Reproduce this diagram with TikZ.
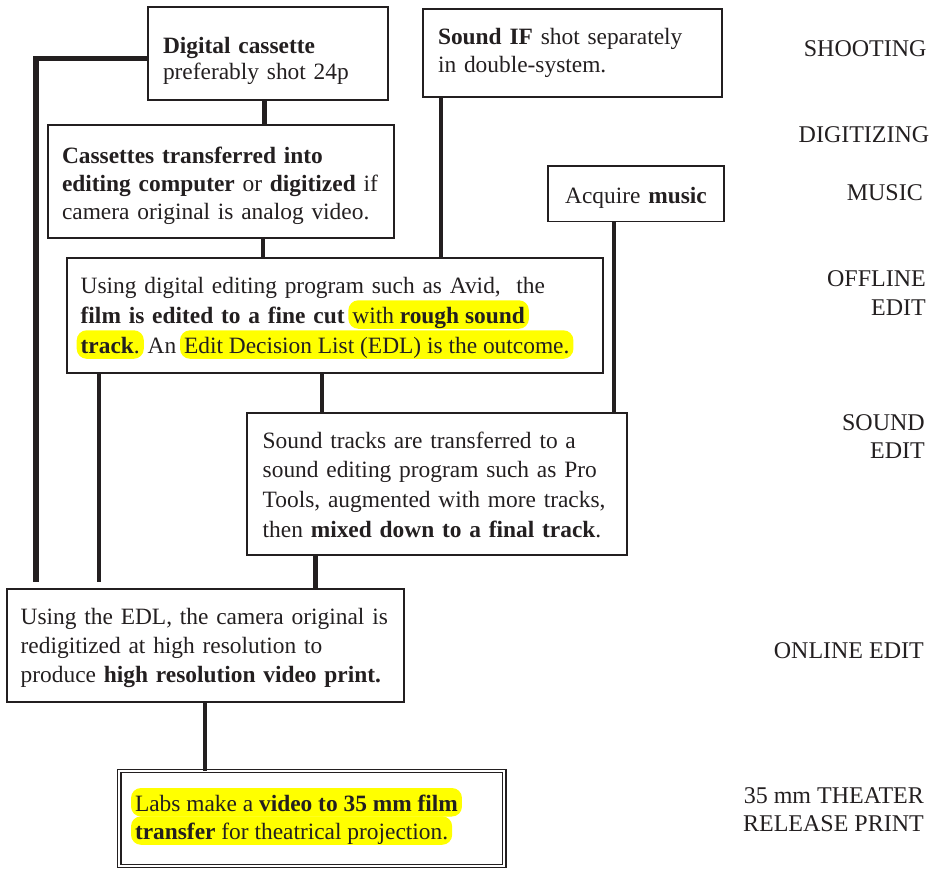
\documentclass[tikz,border=0pt]{standalone}
\usepackage{fontspec}
\setmainfont{Liberation Serif}

\definecolor{ink}{RGB}{35,31,32}
\definecolor{marker}{RGB}{255,255,0}

% box text: 23.4pt type with a given line pitch; lines never pushed apart
\newcommand\boxfont[1]{\fontsize{23.4}{#1}\selectfont\lineskiplimit=-1000pt\relax}
% invisible struts fixing the space above the first and below the last line
\newcommand\tstrut[1]{\rule{0pt}{#1pt}}
\newcommand\bstrut[1]{\rule[-#1pt]{0pt}{#1pt}}
% yellow marker pill that does not disturb the spacing of the line
\newcommand\hlpill[1]{\hspace*{-4pt}\tikz[baseline=(hlp.base)]\node[fill=marker,
  rounded corners=10pt, inner xsep=4pt, inner ysep=0pt, text height=23pt,
  text depth=5.5pt] (hlp) {#1};\hspace*{-4pt}}

\begin{document}
\begin{tikzpicture}[x=1pt,y=-1pt,
  box/.style={draw=ink, line width=1.8pt, anchor=north west, outer sep=0pt,
    inner ysep=0pt, align=left, text=ink},
  link/.style={draw=ink, line width=4.3pt},
  trunk/.style={draw=ink, line width=5.5pt},
  stage/.style={anchor=north east, inner sep=0pt, align=right, text=ink,
    font=\fontsize{24}{28.3}\selectfont}]
\useasboundingbox (0,0) rectangle (935,869);

% ---- process boxes ----
\node[box, text width=210pt, inner xsep=15pt, font=\boxfont{26.7}] (cassette) at (148,7)
  {\mbox{\tstrut{46.3}\textbf{Digital cassette}}\\
   \mbox{preferably shot 24p\bstrut{20}}};

\node[box, text width=269pt, inner xsep=15pt, font=\boxfont{27.7}] (sound) at (423,9)
  {\mbox{\tstrut{35.5}\textbf{Sound IF} shot separately}\\
   \mbox{in double-system.\bstrut{24.8}}};

\node[box, text width=318pt, inner xsep=14pt, font=\boxfont{28.35}] (transfer) at (48,125)
  {\mbox{\tstrut{38.3}\textbf{Cassettes transferred into}}\\
   \mbox{\textbf{editing computer} or \textbf{digitized} if}\\
   \mbox{camera original is analog video.\bstrut{18}}};

\node[box, text width=156pt, inner xsep=10pt, align=center, font=\boxfont{28}] (music) at (548,166)
  {\mbox{\tstrut{37.3}Acquire \textbf{music}\bstrut{18.2}}};

\node[box, text width=508pt, inner xsep=14pt, font=\boxfont{30}] (offline) at (66.7,257.7)
  {\mbox{\tstrut{35.6}Using digital editing program such as Avid, \ the}\\
   \mbox{\textbf{film is edited to a fine cut} \hlpill{with \textbf{rough sound}}}\\
   \mbox{\hlpill{\textbf{track}.} An \hlpill{Edit Decision List (EDL) is the outcome.}\bstrut{19.4}}};

\node[box, text width=348.6pt, inner xsep=15.4pt, font=\boxfont{29.6}] (mix) at (247.3,412.7)
  {\mbox{\tstrut{35.6}Sound tracks are transferred to a}\\
   \mbox{sound editing program such as Pro}\\
   \mbox{Tools, augmented with more tracks,}\\
   \mbox{then \textbf{mixed down to a final track}.\bstrut{17.9}}};

\node[box, text width=369.3pt, inner xsep=14pt, font=\boxfont{29}] (online) at (6.7,589)
  {\mbox{\tstrut{35.3}Using the EDL, the camera original is}\\
   \mbox{redigitized at high resolution to}\\
   \mbox{produce \textbf{high resolution video print.}\bstrut{20}}};

\node[box, line width=1.4pt, double, double distance=2pt, text width=353.5pt,
  inner xsep=15.8pt, font=\boxfont{28.3}] (release) at (119.2,771)
  {\mbox{\tstrut{40}\hlpill{Labs make a \textbf{video to 35 mm film}}}\\
   \mbox{\hlpill{\textbf{transfer} for theatrical projection.}\bstrut{26.7}}};

% ---- stage names ----
\node[stage] (st-shoot)   at (926.7,36.7)  {\tstrut{20}SHOOTING};
\node[stage] (st-digit)   at (929.5,122.7) {\tstrut{20}DIGITIZING};
\node[stage] (st-music)   at (923,180)     {\tstrut{20}MUSIC};
\node[stage] (st-offline) at (926,266.7)   {\tstrut{20}OFFLINE\\EDIT};
\node[stage] (st-sound)   at (925,410)     {\tstrut{20}SOUND\\EDIT};
\node[stage] (st-online)  at (924,638.3)   {\tstrut{20}ONLINE EDIT};
\node[stage] (st-print)   at (924,783.3)   {\tstrut{20}35 mm THEATER\\RELEASE PRINT};

% ---- connector columns and free ends ----
\coordinate (c-cas)  at (264.6,0);
\coordinate (c-tra)  at (263,0);
\coordinate (c-snd)  at (441.3,0);
\coordinate (c-mus)  at (613.8,0);
\coordinate (c-off)  at (322.2,0);
\coordinate (c-edl)  at (98.8,0);
\coordinate (c-mix)  at (315.6,0);
\coordinate (c-onl)  at (204.7,0);
\coordinate (trunk-end) at (36.2,582);
\coordinate (edl-end)   at (98.8,582);

% ---- connectors ----
\draw[trunk] ([yshift=-4.8pt]cassette.west) -| (trunk-end);
\draw[link] (cassette.south -| c-cas) -- (transfer.north -| c-cas);
\draw[link] (transfer.south -| c-tra) -- (offline.north -| c-tra);
\draw[link] (sound.south -| c-snd) -- (offline.north -| c-snd);
\draw[link] (music.south -| c-mus) -- (mix.north -| c-mus);
\draw[link] (offline.south -| c-off) -- (mix.north -| c-off);
\draw[link] (offline.south -| c-edl) -- (edl-end);
\draw[link] (mix.south -| c-mix) -- (online.north -| c-mix);
\draw[link] (online.south -| c-onl) -- (release.north -| c-onl);
\end{tikzpicture}
\end{document}
